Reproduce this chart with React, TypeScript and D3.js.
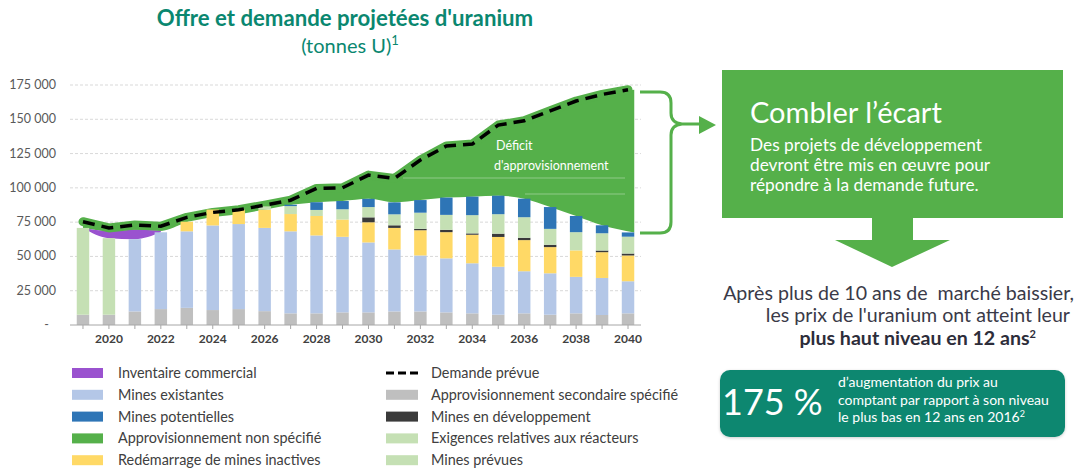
import * as d3 from 'd3';

const years = [2019, 2020, 2021, 2022, 2023, 2024, 2025, 2026, 2027, 2028, 2029, 2030, 2031, 2032, 2033, 2034, 2035, 2036, 2037, 2038, 2039, 2040];

// tonnes U
const secondaire = [7500, 7500, 9900, 11600, 12500, 10900, 11600, 10100, 8500, 8500, 9200, 9200, 9900, 9900, 9200, 8500, 7500, 8500, 7500, 8500, 7300, 8500];
const reacteurs = [63300, 55800, 0, 0, 0, 0, 0, 0, 0, 0, 0, 0, 0, 0, 0, 0, 0, 0, 0, 0, 0, 0];
const existantes = [0, 0, 52700, 56000, 55800, 61700, 62000, 60700, 59800, 56800, 55100, 51000, 45200, 40800, 39400, 36500, 35000, 30700, 30200, 26600, 27000, 23400];
const redemarrage = [0, 0, 0, 0, 7000, 11600, 10400, 13300, 12600, 14200, 12600, 14700, 15700, 18400, 19100, 20800, 21700, 22700, 19100, 19300, 18800, 18800];
const developpement = [0, 0, 0, 0, 0, 0, 0, 0, 0, 0, 0, 3600, 1900, 1000, 1700, 1000, 2400, 1700, 1700, 0, 1200, 1400];
const prevues = [0, 0, 0, 0, 0, 0, 0, 2400, 5800, 4400, 7500, 7500, 8000, 11800, 10900, 13300, 14200, 15000, 11600, 13300, 12600, 12300];
const potentielles = [0, 0, 0, 0, 0, 0, 0, 0, 1000, 5600, 6000, 6000, 8700, 9200, 12600, 13500, 13500, 13500, 15900, 11800, 5800, 3100];
const inventaire = [0, 5500, 6800, 1200];
const demande = [75300, 70800, 72900, 72000, 78500, 82100, 84000, 87400, 91000, 99600, 100100, 109300, 106900, 120300, 130500, 131900, 145800, 148900, 156200, 163300, 168100, 171500];

const yTicks = [0, 25000, 50000, 75000, 100000, 125000, 150000, 175000];
const yearLabels = [2020, 2022, 2024, 2026, 2028, 2030, 2032, 2034, 2036, 2038, 2040];

const C = {
  secondaire: '#bfbfbf',
  reacteurs: '#c5e0b4',
  existantes: '#b4c7e7',
  redemarrage: '#ffd966',
  developpement: '#3a3a3a',
  prevues: '#c5e0b4',
  potentielles: '#2e75b6',
  inventaire: '#9a52cf',
  nonSpecifie: '#55b04a',
  teal: '#0a8770',
};

const legendLeft = [
  { label: 'Inventaire commercial', color: C.inventaire },
  { label: 'Mines existantes', color: C.existantes },
  { label: 'Mines potentielles', color: C.potentielles },
  { label: 'Approvisionnement non spécifié', color: C.nonSpecifie },
  { label: 'Redémarrage de mines inactives', color: C.redemarrage },
];
const legendRight = [
  { label: 'Demande prévue', color: 'dash' },
  { label: 'Approvisionnement secondaire spécifié', color: C.secondaire },
  { label: 'Mines en développement', color: C.developpement },
  { label: 'Exigences relatives aux réacteurs', color: C.reacteurs },
  { label: 'Mines prévues', color: C.prevues },
];

const FONT = 'Lato, "Open Sans", sans-serif';
const keys = ['secondaire', 'reacteurs', 'existantes', 'redemarrage', 'developpement', 'prevues', 'potentielles'];
const series: Record<string, number[]> = { secondaire, reacteurs, existantes, redemarrage, developpement, prevues, potentielles };

export default function App() {
  const W = 1080;
  const H = 469;
  const x = d3.scaleBand<number>().domain(years).range([70, 641]).paddingInner(0.52).paddingOuter(0.26);
  const y = d3.scaleLinear().domain([0, 175000]).range([325, 85]);
  const bw = x.bandwidth();
  const cx = (yr: number) => (x(yr) as number) + bw / 2;

  const rows = years.map((yr, i) => {
    const r: any = { year: yr };
    keys.forEach((k) => (r[k] = series[k][i]));
    return r;
  });
  const stacked = d3.stack<any>().keys(keys)(rows);
  const supply = years.map((_, i) => d3.sum(keys, (k) => series[k][i]));
  const withInv = supply.map((s, i) => s + (inventaire[i] ?? 0));
  const idx = years.map((_, i) => i);
  const n = years.length;

  const invArea = d3
    .area<number>()
    .defined((i) => i < inventaire.length)
    .x((i) => cx(years[i]))
    .y0((i) => y(supply[i]))
    .y1((i) => y(withInv[i]))
    .curve(d3.curveMonotoneX);

  const gapArea = d3
    .area<number>()
    .x((i) => cx(years[i]) + (i === n - 1 ? bw / 2 : 0))
    .y0((i) => y(withInv[i]))
    .y1((i) => y(demande[i]))
    .curve(d3.curveMonotoneX);

  const demandLine = d3
    .line<number>()
    .x((i) => cx(years[i]))
    .y((i) => y(demande[i]));

  const fmt = (v: number) => (v === 0 ? '-' : d3.format(',')(v).replace(/,/g, ' '));

  return (
    <svg width={W} height={H} style={{ position: 'absolute', left: 0, top: 0, fontFamily: FONT }}>
      <rect width={W} height={H} fill="#fff" />

      {/* titre */}
      <text x={345} y={26} textAnchor="middle" fontSize={22.2} fontWeight={700} fill={C.teal}>
        Offre et demande projetées d'uranium
      </text>
      <text x={350} y={53} textAnchor="middle" fontSize={20} fill={C.teal}>
        (tonnes U)<tspan fontSize={13} dy={-8}>1</tspan>
      </text>

      {/* grille */}
      {yTicks.map((t) => (
        <g key={t}>
          {t > 0 && (
            <line x1={70} x2={641} y1={y(t)} y2={y(t)} stroke="#d9d9d9" strokeDasharray="3,2" />
          )}
          <text x={t === 0 ? 49 : 56} y={y(t) + 4} textAnchor="end" fontSize={12.5} fill="#595959">
            {fmt(t)}
          </text>
        </g>
      ))}

      {/* déficit + inventaire */}
      <path d={gapArea(idx) ?? ''} fill={C.nonSpecifie} />
      <path d={invArea(idx) ?? ''} fill={C.inventaire} />
      <path
        d={demandLine(idx) ?? ''}
        fill="none"
        stroke={C.nonSpecifie}
        strokeWidth={9}
        strokeLinejoin="round"
        strokeLinecap="round"
      />
      <line x1={403} x2={625} y1={178} y2={178} stroke="rgba(255,255,255,0.35)" />
      <line x1={525} x2={625} y1={194} y2={194} stroke="rgba(255,255,255,0.35)" />
      <text x={496} y={150} fontSize={12.5} fill="#fff">Déficit</text>
      <text x={494} y={170} fontSize={12.5} fill="#fff">d'approvisionnement</text>

      {/* barres empilées */}
      {stacked.map((s) => (
        <g key={s.key} fill={(C as any)[s.key]}>
          {s.map((d, i) =>
            d[1] - d[0] > 0 ? (
              <rect key={i} x={x(years[i])} width={bw} y={y(d[1])} height={y(d[0]) - y(d[1])} />
            ) : null
          )}
        </g>
      ))}

      {/* demande prévue */}
      <path d={demandLine(idx) ?? ''} fill="none" stroke="#000" strokeWidth={3.5} strokeDasharray="12,7" />

      {/* axe x */}
      <line x1={70} x2={641} y1={325} y2={325} stroke="#a6a6a6" />
      {years.map((yr) => (
        <line key={yr} x1={cx(yr)} x2={cx(yr)} y1={325} y2={329} stroke="#a6a6a6" />
      ))}
      {yearLabels.map((yr) => (
        <text key={yr} x={cx(yr)} y={343} textAnchor="middle" fontSize={12} fontWeight={700} fill="#404040">
          {yr}
        </text>
      ))}

      {/* accolade + flèche */}
      <path
        d="M640,92 L660,92 Q671,92 671,103 L671,113 Q671,123 682,124 L702,124 M682,124 Q671,125 671,135 L671,222 Q671,233 660,233 L640,233"
        fill="none"
        stroke={C.nonSpecifie}
        strokeWidth={3}
      />
      <path d="M699,116 L716,125 L699,134 Z" fill={C.nonSpecifie} />

      {/* légende */}
      {legendLeft.map((l, i) => (
        <g key={l.label} transform={`translate(72, ${373 + i * 21.8})`}>
          <rect x={0} y={-5} width={31} height={10} fill={l.color} />
          <text x={46} y={5} fontSize={14.4} fill="#404040">{l.label}</text>
        </g>
      ))}
      {legendRight.map((l, i) => (
        <g key={l.label} transform={`translate(386, ${373 + i * 21.8})`}>
          {l.color === 'dash' ? (
            <line x1={0} x2={32} y1={0} y2={0} stroke="#000" strokeWidth={3} strokeDasharray="8,4" />
          ) : (
            <rect x={0} y={-5} width={32} height={10} fill={l.color} />
          )}
          <text x={45} y={5} fontSize={14.4} fill="#404040">{l.label}</text>
        </g>
      ))}

      {/* encadré vert */}
      <rect x={722} y={70} width={341} height={148} fill={C.nonSpecifie} />
      <text x={750} y={123} fontSize={29} fill="#fff">Combler l’écart</text>
      <text x={750} y={151} fontSize={17.3} fill="#fff">Des projets de développement</text>
      <text x={750} y={171} fontSize={17.3} fill="#fff">devront être mis en œuvre pour</text>
      <text x={750} y={191} fontSize={17.3} fill="#fff">répondre à la demande future.</text>
      <path d="M872,217 L913,217 L913,240 L950,240 L892,267 L835,240 L872,240 Z" fill={C.nonSpecifie} />

      {/* texte prix */}
      <text x={1074} y={300} textAnchor="end" fontSize={19.6} fill="#3a3a48" style={{ whiteSpace: 'pre' }}>
        {'Après plus de 10 ans de  marché baissier,'}
      </text>
      <text x={1070} y={322} textAnchor="end" fontSize={19.6} fill="#3a3a48">
        les prix de l'uranium ont atteint leur
      </text>
      <text x={1036} y={345} textAnchor="end" fontSize={19.6} fontWeight={700} fill="#2d2d3a">
        plus haut niveau en 12 ans<tspan fontSize={11} dy={-7}>2</tspan>
      </text>

      {/* encadré teal */}
      <defs>
        <filter id="ombre" x="-5%" y="-10%" width="110%" height="130%">
          <feDropShadow dx={0} dy={1} stdDeviation={1.5} floodColor="#000" floodOpacity={0.2} />
        </filter>
      </defs>
      <rect x={720} y={370} width={345} height={67} rx={10} fill={C.teal} filter="url(#ombre)" />
      <text x={722} y={415} fontSize={36} fill="#fff">175 %</text>
      <text x={838} y={387} fontSize={14} fill="#fff">d’augmentation du prix au</text>
      <text x={838} y={405} fontSize={14} fill="#fff">comptant par rapport à son niveau</text>
      <text x={838} y={422} fontSize={14} fill="#fff">
        le plus bas en 12 ans en 2016<tspan fontSize={9} dy={-5}>2</tspan>
      </text>
    </svg>
  );
}
